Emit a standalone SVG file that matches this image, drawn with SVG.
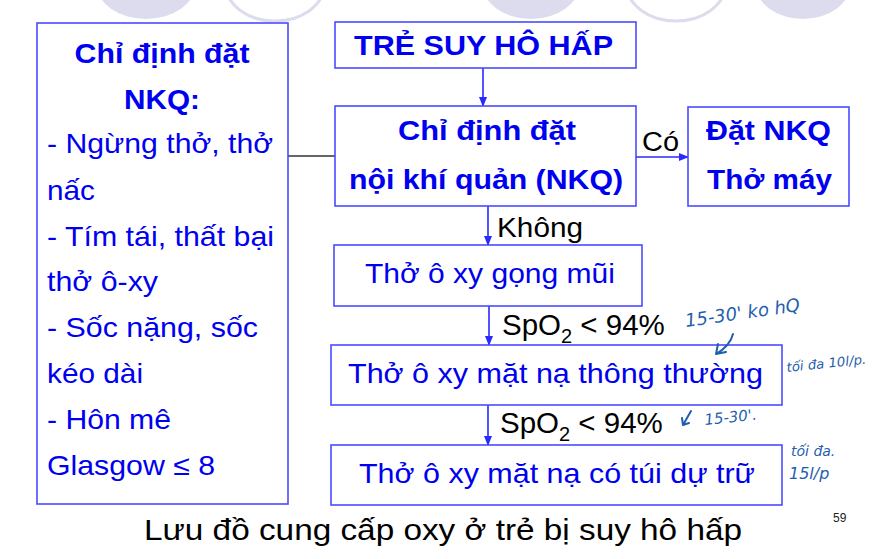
<svg xmlns="http://www.w3.org/2000/svg" width="872" height="559" viewBox="0 0 872 559">
<defs>
<style>
.box{fill:#fff;stroke:#4a4aff;stroke-width:1.6}
.b{font-family:"Liberation Sans",Arial,sans-serif;font-weight:bold;font-size:28px;fill:#0000f0}
.r{font-family:"Liberation Sans",Arial,sans-serif;font-size:28px;fill:#0000f0}
.lbl{font-family:"Liberation Sans",Arial,sans-serif;font-size:27px;fill:#000}
.spo{font-family:"Liberation Sans",Arial,sans-serif;font-size:29.5px;fill:#000}
.sub{font-size:20px}
.conn{stroke:#2a2aff;stroke-width:1.6;fill:none}
.bg{fill:#dcdcee}
.ring{fill:#fff;stroke:#dcdcee;stroke-width:3}
.hw{font-family:"DejaVu Sans",sans-serif;font-style:oblique;fill:#1f5fae}
.hwl{stroke:#1f5fae;stroke-width:2;fill:none;stroke-linecap:round}
</style>
<marker id="ah" markerWidth="10" markerHeight="8" refX="9" refY="4" orient="auto" markerUnits="userSpaceOnUse">
<path d="M0,0 L10,4 L0,8 Z" fill="#2a2aff"/>
</marker>
</defs>
<rect width="872" height="559" fill="#fff"/>
<g id="background">
<ellipse class="bg" cx="146" cy="-17" rx="50" ry="36"/>
<ellipse class="ring" cx="275" cy="-15" rx="49" ry="36"/>
<ellipse class="bg" cx="531" cy="-17" rx="49" ry="36"/>
<ellipse class="ring" cx="676" cy="-15" rx="49" ry="36"/>
<ellipse class="bg" cx="803" cy="-17" rx="48" ry="36"/>
</g>
<g id="connectors">
<line x1="288" y1="156" x2="335" y2="156" stroke="#333" stroke-width="1.6"/>
<line class="conn" x1="483" y1="68" x2="483" y2="106" marker-end="url(#ah)"/>
<line class="conn" x1="636" y1="157" x2="688" y2="157" marker-end="url(#ah)"/>
<line class="conn" x1="488" y1="206" x2="488" y2="245" marker-end="url(#ah)"/>
<line class="conn" x1="489" y1="306" x2="489" y2="345" marker-end="url(#ah)"/>
<line class="conn" x1="488" y1="405" x2="488" y2="445" marker-end="url(#ah)"/>
<text class="lbl" x="642" y="151" textLength="37" lengthAdjust="spacingAndGlyphs">Có</text>
<text class="lbl" x="497" y="237" textLength="86" lengthAdjust="spacingAndGlyphs">Không</text>
<text class="spo" x="502" y="335">SpO<tspan class="sub" dy="8">2</tspan><tspan dy="-8"> &lt; 94%</tspan></text>
<text class="spo" x="500" y="433">SpO<tspan class="sub" dy="8">2</tspan><tspan dy="-8"> &lt; 94%</tspan></text>
</g>
<g id="node-indications">
<rect class="box" x="37" y="23" width="251" height="481"/>
<text class="b" x="162" y="63" text-anchor="middle" textLength="175" lengthAdjust="spacingAndGlyphs">Chỉ định đặt</text>
<text class="b" x="162" y="109" text-anchor="middle" textLength="76" lengthAdjust="spacingAndGlyphs">NKQ:</text>
<text class="r" x="47" y="153" textLength="226" lengthAdjust="spacingAndGlyphs">- Ngừng thở, thở</text>
<text class="r" x="47" y="200" textLength="48" lengthAdjust="spacingAndGlyphs">nấc</text>
<text class="r" x="47" y="246" textLength="227" lengthAdjust="spacingAndGlyphs">- Tím tái, thất bại</text>
<text class="r" x="47" y="291" textLength="111" lengthAdjust="spacingAndGlyphs">thở ô-xy</text>
<text class="r" x="47" y="337" textLength="211" lengthAdjust="spacingAndGlyphs">- Sốc nặng, sốc</text>
<text class="r" x="47" y="383" textLength="96" lengthAdjust="spacingAndGlyphs">kéo dài</text>
<text class="r" x="47" y="429" textLength="124" lengthAdjust="spacingAndGlyphs">- Hôn mê</text>
<text class="r" x="47" y="475" textLength="168" lengthAdjust="spacingAndGlyphs">Glasgow ≤ 8</text>
</g>
<g id="node-start">
<rect class="box" x="335" y="22" width="301" height="46"/>
<text class="b" x="354" y="55" textLength="259" lengthAdjust="spacingAndGlyphs">TRẺ SUY HÔ HẤP</text>
</g>
<g id="node-decision">
<rect class="box" x="335" y="106" width="301" height="100"/>
<text class="b" x="398" y="140" textLength="178" lengthAdjust="spacingAndGlyphs">Chỉ định đặt</text>
<text class="b" x="349" y="189" textLength="274" lengthAdjust="spacingAndGlyphs">nội khí quản (NKQ)</text>
</g>
<g id="node-intubate">
<rect class="box" x="688" y="107" width="161" height="99"/>
<text class="b" x="706" y="140" textLength="125" lengthAdjust="spacingAndGlyphs">Đặt NKQ</text>
<text class="b" x="707" y="189" textLength="125" lengthAdjust="spacingAndGlyphs">Thở máy</text>
</g>
<g id="node-nasal">
<rect class="box" x="334" y="245" width="308" height="61"/>
<text class="r" x="365" y="283" textLength="250" lengthAdjust="spacingAndGlyphs">Thở ô xy gọng mũi</text>
</g>
<g id="node-simple-mask">
<rect class="box" x="331" y="345" width="451" height="60"/>
<text class="r" x="348" y="383" textLength="415" lengthAdjust="spacingAndGlyphs">Thở ô xy mặt nạ thông thường</text>
</g>
<g id="node-reservoir-mask">
<rect class="box" x="331" y="445" width="451" height="60"/>
<text class="r" x="359" y="483" textLength="396" lengthAdjust="spacingAndGlyphs">Thở ô xy mặt nạ có túi dự trữ</text>
</g>
<g id="caption">
<text x="144" y="540" font-family="Liberation Sans, Arial, sans-serif" font-size="29" fill="#000" textLength="598" lengthAdjust="spacingAndGlyphs">Lưu đồ cung cấp oxy ở trẻ bị suy hô hấp</text>
<text x="833" y="522" font-family="Liberation Sans, Arial, sans-serif" font-size="12" fill="#222">59</text>
</g>
<g id="annotations">
<text class="hw" x="686" y="327" font-size="18" transform="rotate(-8 686 327)">15-30' ko hQ</text>
<path class="hwl" d="M733,334 Q730,346 716,354 M716,354 L718,344 M716,354 L726,352"/>
<text class="hw" x="787" y="372" font-size="13" textLength="80" lengthAdjust="spacingAndGlyphs" transform="rotate(-6 787 372)">tối đa 10l/p.</text>
<path class="hwl" d="M691,411 L683,425 M683,425 L682,418 M683,425 L689,423"/>
<text class="hw" x="705" y="425" font-size="15" transform="rotate(-6 705 425)">15-30'.</text>
<text class="hw" x="791" y="456" font-size="14">tối đa.</text>
<text class="hw" x="789" y="479" font-size="16">15l/p</text>
</g>
</svg>
